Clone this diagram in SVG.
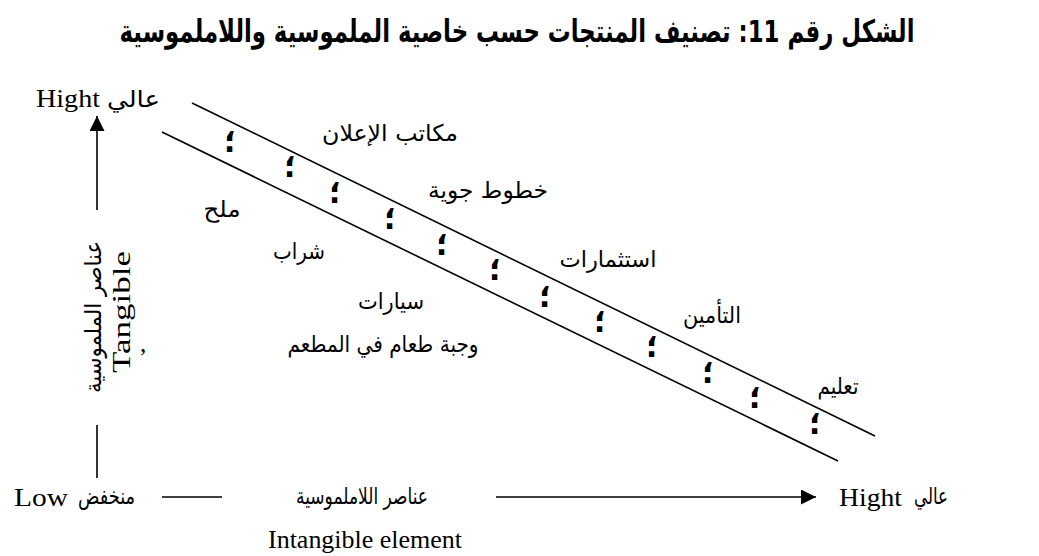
<svg xmlns="http://www.w3.org/2000/svg" width="1039" height="556" viewBox="0 0 1039 556">
<style>
.ar{font-family:"DejaVu Sans","Noto Sans",sans-serif;font-size:23px;fill:#000}
.lat{font-family:"Liberation Serif","Times New Roman",serif;font-size:25px;fill:#000}
.title{font-family:"DejaVu Sans","Noto Sans",sans-serif;font-size:31px;font-weight:bold;fill:#000}
.ln{stroke:#000;stroke-width:1.6;fill:none}
.dot{font-family:"DejaVu Sans",sans-serif;font-size:30px;font-weight:bold;fill:#000}
</style>
<defs>
<marker id="ah" viewBox="0 0 10 10" refX="10" refY="5" markerWidth="17" markerHeight="15" markerUnits="userSpaceOnUse" orient="auto">
<path d="M0,0 L10,5 L0,10 z" fill="#000"/>
</marker>
</defs>
<rect width="1039" height="556" fill="#fff"/>

<g id="title">
<text class="title" x="517" y="42" direction="rtl" text-anchor="middle" textLength="795" lengthAdjust="spacingAndGlyphs">الشكل رقم 11: تصنيف المنتجات حسب خاصية الملموسية واللاملموسية</text>
</g>

<g id="connectors">
<line class="ln" x1="192" y1="103" x2="875" y2="436"/>
<line class="ln" x1="162" y1="132" x2="838" y2="461"/>
<line class="ln" x1="97" y1="210" x2="97" y2="116" marker-end="url(#ah)"/>
<line class="ln" x1="97" y1="425" x2="97" y2="478"/>
<line class="ln" x1="162" y1="497" x2="222" y2="497"/>
<line class="ln" x1="496" y1="497" x2="816" y2="497" marker-end="url(#ah)"/>
</g>

<g id="dots">
<text class="dot" text-anchor="middle" x="230" y="152">؛</text>
<text class="dot" text-anchor="middle" x="290" y="177">؛</text>
<text class="dot" text-anchor="middle" x="335" y="203">؛</text>
<text class="dot" text-anchor="middle" x="390" y="229">؛</text>
<text class="dot" text-anchor="middle" x="442" y="255">؛</text>
<text class="dot" text-anchor="middle" x="495" y="280">؛</text>
<text class="dot" text-anchor="middle" x="545" y="307">؛</text>
<text class="dot" text-anchor="middle" x="600" y="332">؛</text>
<text class="dot" text-anchor="middle" x="652" y="357">؛</text>
<text class="dot" text-anchor="middle" x="708" y="383">؛</text>
<text class="dot" text-anchor="middle" x="755" y="408">؛</text>
<text class="dot" text-anchor="middle" x="815" y="434">؛</text>
</g>

<g id="y-high">
<text class="lat" x="36" y="107" textLength="64" lengthAdjust="spacingAndGlyphs">Hight</text>
<text class="ar" x="160" y="107" direction="rtl" text-anchor="start" textLength="53" lengthAdjust="spacingAndGlyphs">عالي</text>
</g>

<g id="y-label">
<text class="ar" transform="translate(94,317) rotate(-90)" x="0" y="7" text-anchor="middle" direction="rtl" textLength="152" lengthAdjust="spacingAndGlyphs">عناصر الملموسية</text>
<text class="lat" transform="translate(122,312) rotate(-90)" x="0" y="8" text-anchor="middle" textLength="122" lengthAdjust="spacingAndGlyphs">Tangible</text>
<text class="lat" x="140" y="352" font-size="14">,</text>
</g>

<g id="x-low">
<text class="lat" x="14" y="506" textLength="54" lengthAdjust="spacingAndGlyphs">Low</text>
<text class="ar" x="135" y="504" direction="rtl" text-anchor="start" textLength="57" lengthAdjust="spacingAndGlyphs">منخفض</text>
</g>

<g id="x-label">
<text class="ar" x="362" y="504" direction="rtl" text-anchor="middle" textLength="132" lengthAdjust="spacingAndGlyphs">عناصر اللاملموسية</text>
<text class="lat" x="365" y="548" text-anchor="middle" textLength="194" lengthAdjust="spacingAndGlyphs">Intangible element</text>
</g>

<g id="x-high">
<text class="lat" x="839" y="506" textLength="63" lengthAdjust="spacingAndGlyphs">Hight</text>
<text class="ar" x="948" y="504" direction="rtl" text-anchor="start" textLength="34" lengthAdjust="spacingAndGlyphs">عالي</text>
</g>

<g id="n-ads"><text class="ar" x="390" y="141" direction="rtl" text-anchor="middle" textLength="136" lengthAdjust="spacingAndGlyphs">مكاتب الإعلان</text></g>
<g id="n-airlines"><text class="ar" x="488" y="198" direction="rtl" text-anchor="middle" textLength="120" lengthAdjust="spacingAndGlyphs">خطوط جوية</text></g>
<g id="n-salt"><text class="ar" x="222" y="217" direction="rtl" text-anchor="middle" textLength="37" lengthAdjust="spacingAndGlyphs">ملح</text></g>
<g id="n-drink"><text class="ar" x="299" y="259" direction="rtl" text-anchor="middle" textLength="52" lengthAdjust="spacingAndGlyphs">شراب</text></g>
<g id="n-cars"><text class="ar" x="391" y="309" direction="rtl" text-anchor="middle" textLength="66" lengthAdjust="spacingAndGlyphs">سيارات</text></g>
<g id="n-meal"><text class="ar" x="383" y="352" direction="rtl" text-anchor="middle" textLength="191" lengthAdjust="spacingAndGlyphs">وجبة طعام في المطعم</text></g>
<g id="n-invest"><text class="ar" x="608" y="267" direction="rtl" text-anchor="middle" textLength="97" lengthAdjust="spacingAndGlyphs">استثمارات</text></g>
<g id="n-insurance"><text class="ar" x="712" y="323" direction="rtl" text-anchor="middle" textLength="58" lengthAdjust="spacingAndGlyphs">التأمين</text></g>
<g id="n-education"><text class="ar" x="838" y="394" direction="rtl" text-anchor="middle" textLength="41" lengthAdjust="spacingAndGlyphs">تعليم</text></g>
</svg>
